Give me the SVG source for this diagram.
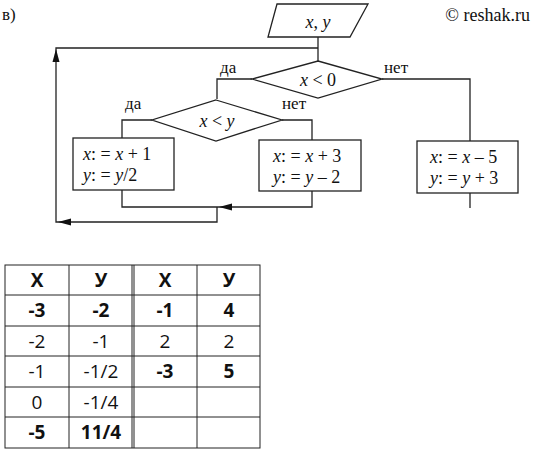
<svg xmlns="http://www.w3.org/2000/svg" width="533" height="449" viewBox="0 0 533 449">
<style>
.ln{fill:none;stroke:#222;stroke-width:1.3}
.sh{fill:#fff;stroke:#222;stroke-width:1.3}
.f{font-family:"Liberation Serif","DejaVu Serif",serif;font-size:18px;fill:#111}
.i{font-style:italic}
.lb{font-family:"Liberation Serif","DejaVu Serif",serif;font-size:17px;fill:#111}
.t{font-family:"Open Sans","Liberation Sans",sans-serif;font-size:19px;fill:#111;text-anchor:middle}
.b{font-weight:bold}
.g{fill:none;stroke:#222;stroke-width:1}
</style>
<text x="2" y="20" class="lb">в)</text>
<text x="530" y="21" class="f" font-size="21" text-anchor="end">© reshak.ru</text>

<g id="connectors">
<polyline class="ln" points="318,37 318,61"/>
<polyline class="ln" points="318,48 56,48 56,222 217,222 217,207"/>
<polyline class="ln" points="252,79 217,79 217,99"/>
<polyline class="ln" points="382,79 470,79 470,141"/>
<polyline class="ln" points="152,120 122,120 122,138"/>
<polyline class="ln" points="282,120 312,120 312,140"/>
<polyline class="ln" points="122,190 122,207 312,207 312,191"/>
<polyline class="ln" points="470,193 470,208"/>
<polygon points="56,49 52.5,62 59.5,62" fill="#111"/>
<polygon points="219,207 232,203.5 232,210.5" fill="#111"/>
<polygon points="58,222 71,218.5 71,225.5" fill="#111"/>
</g>

<g id="input">
<polygon class="sh" points="277,4 368,4 350,37 268,37"/>
<text x="318" y="28" class="f" text-anchor="middle"><tspan class="i">x</tspan>, <tspan class="i">y</tspan></text>
</g>
<g id="cond1">
<polygon class="sh" points="318,61 382,79 318,98 252,79"/>
<text x="318" y="86" class="f" text-anchor="middle"><tspan class="i">x</tspan> &lt; 0</text>
<text x="220" y="73" class="lb">да</text>
<text x="384" y="73" class="lb">нет</text>
</g>
<g id="cond2">
<polygon class="sh" points="216,100 282,120 216,141 152,120"/>
<text x="217" y="127" class="f" text-anchor="middle"><tspan class="i">x</tspan> &lt; <tspan class="i">y</tspan></text>
<text x="125" y="109" class="lb">да</text>
<text x="282" y="109" class="lb">нет</text>
</g>
<g id="box1">
<rect class="sh" x="73" y="138" width="101" height="52"/>
<text x="83" y="160" class="f"><tspan class="i">x</tspan>: = <tspan class="i">x</tspan> + 1</text>
<text x="83" y="181" class="f"><tspan class="i">y</tspan>: = <tspan class="i">y</tspan>/2</text>
</g>
<g id="box2">
<rect class="sh" x="259" y="140" width="102" height="51"/>
<text x="273" y="162" class="f"><tspan class="i">x</tspan>: = <tspan class="i">x</tspan> + 3</text>
<text x="273" y="183" class="f"><tspan class="i">y</tspan>: = <tspan class="i">y</tspan> – 2</text>
</g>
<g id="box3">
<rect class="sh" x="417" y="141" width="101" height="52"/>
<text x="430" y="163" class="f"><tspan class="i">x</tspan>: = <tspan class="i">x</tspan> – 5</text>
<text x="430" y="184" class="f"><tspan class="i">y</tspan>: = <tspan class="i">y</tspan> + 3</text>
</g>

<g id="table">
<rect class="g" x="5" y="265" width="255" height="183"/>
<line class="g" x1="69" y1="265" x2="69" y2="448"/>
<line class="g" x1="132" y1="265" x2="132" y2="448"/>
<line class="g" x1="134" y1="265" x2="134" y2="448"/>
<line class="g" x1="197" y1="265" x2="197" y2="448"/>
<line class="g" x1="5" y1="295" x2="260" y2="295"/>
<line class="g" x1="5" y1="326" x2="260" y2="326"/>
<line class="g" x1="5" y1="356" x2="260" y2="356"/>
<line class="g" x1="5" y1="387" x2="260" y2="387"/>
<line class="g" x1="5" y1="417" x2="260" y2="417"/>
<g class="t b">
<text x="37" y="287">X</text><text x="101" y="287">У</text><text x="165" y="287">X</text><text x="229" y="287">У</text>
<text x="37" y="317">-3</text><text x="101" y="317">-2</text><text x="165" y="317">-1</text><text x="229" y="317">4</text>
<text x="165" y="378">-3</text><text x="229" y="378">5</text>
<text x="37" y="439">-5</text><text x="101" y="439">11/4</text>
</g>
<g class="t">
<text x="37" y="348">-2</text><text x="101" y="348">-1</text><text x="165" y="348">2</text><text x="229" y="348">2</text>
<text x="37" y="378">-1</text><text x="101" y="378">-1/2</text>
<text x="37" y="409">0</text><text x="101" y="409">-1/4</text>
</g>
</g>
</svg>
